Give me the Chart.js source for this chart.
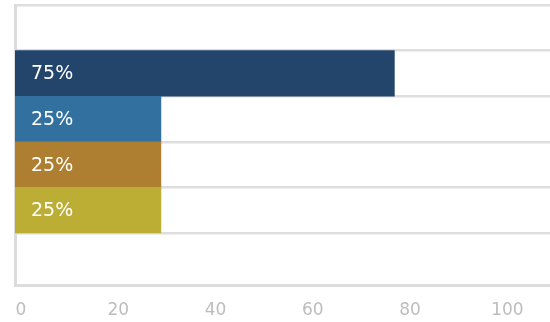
<!DOCTYPE html>
<html>
<head>
<meta charset="utf-8">
<script src="https://cdn.jsdelivr.net/npm/chart.js@4"></script>
<style>
    html, body { margin: 0; padding: 0; background: #fff; }
    #wrap { width: 550px; height: 322px; }
</style>
</head>
<body>
<div id="wrap"><canvas id="chart"></canvas></div>
<script>
const categories = ['Row 1', 'Row 2', 'Row 3', 'Row 4'];
const values = [78, 30, 30, 30];
const barLabels = ['75%', '25%', '25%', '25%'];
const xTicks = [0, 20, 40, 60, 80, 100];

const barColors = ['#23446b', '#3270a0', '#ae7f30', '#bcae34'];
const FONT = "'DejaVu Sans', sans-serif";

// writes the percent text inside each bar, near its left end
const barText = {
    id: 'barText',
    afterDatasetsDraw(chart) {
        const { ctx, chartArea } = chart;
        const meta = chart.getDatasetMeta(0);
        ctx.save();
        ctx.fillStyle = '#ffffff';
        ctx.font = `19px ${FONT}`;
        ctx.textAlign = 'left';
        ctx.textBaseline = 'middle';
        meta.data.forEach((bar, i) => {
            ctx.fillText(barLabels[i], chartArea.left + 16, bar.y + 1);
        });
        ctx.restore();
    }
};

new Chart(document.getElementById('chart'), {
    type: 'bar',
    data: {
        labels: categories,
        datasets: [{
            data: values.map((v, i) => ({ x: v, y: i + 1 })),
            backgroundColor: barColors,
            barPercentage: 1,
            categoryPercentage: 1,
            borderWidth: 0
        }]
    },
    options: {
        indexAxis: 'y',
        responsive: true,
        maintainAspectRatio: false,
        animation: false,
        layout: { padding: { top: 5, left: 15, right: 0, bottom: 0 } },
        plugins: {
            legend: { display: false },
            tooltip: { enabled: false }
        },
        scales: {
            x: {
                type: 'linear',
                min: 0,
                max: 110,
                afterBuildTicks: (axis) => { axis.ticks = xTicks.map(v => ({ value: v })); },
                afterFit: (axis) => {
                    axis.height = 37;
                    axis.paddingLeft = 0;
                    axis.paddingRight = 0;
                },
                grid: { display: false, drawTicks: false },
                border: { display: true, color: '#dcdcdc', width: 3 },
                ticks: {
                    color: '#bdbdbd',
                    font: { family: FONT, size: 17 },
                    padding: 15,
                    labelOffset: 6,
                    maxRotation: 0
                }
            },
            y: {
                type: 'linear',
                reverse: true,
                offset: false,
                min: -0.5,
                max: 5.64,
                afterBuildTicks: (axis) => {
                    axis.ticks = [-0.5, 0.5, 1.5, 2.5, 3.5, 4.5].map(v => ({ value: v }));
                },
                afterFit: (axis) => { axis.width = 0; },
                grid: { color: '#dedede', lineWidth: 2.5, drawTicks: false, offset: false },
                border: { display: true, color: '#dcdcdc', width: 3 },
                ticks: { display: false }
            }
        }
    },
    plugins: [barText]
});
</script>
</body>
</html>
